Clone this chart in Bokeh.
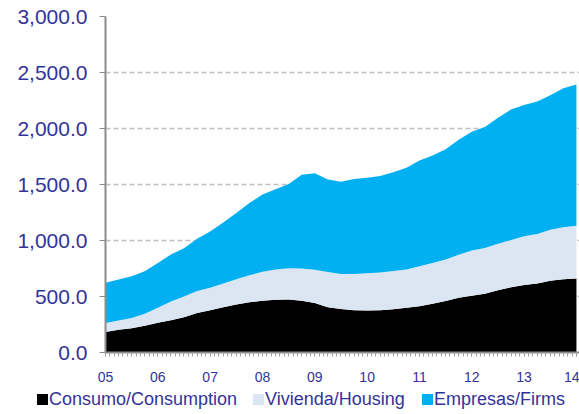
from bokeh.plotting import figure
from bokeh.layouts import column
from bokeh.models import ColumnDataSource, Range1d, FixedTicker, NumeralTickFormatter, Div
from bokeh.embed import file_html
from bokeh.resources import INLINE

# Quarterly readings, Jan 2005 .. Jan 2014 (stock of credit)
periods = ["2005-01", "2005-04", "2005-07", "2005-10", "2006-01", "2006-04", "2006-07", "2006-10",
           "2007-01", "2007-04", "2007-07", "2007-10", "2008-01", "2008-04", "2008-07", "2008-10",
           "2009-01", "2009-04", "2009-07", "2009-10", "2010-01", "2010-04", "2010-07", "2010-10",
           "2011-01", "2011-04", "2011-07", "2011-10", "2012-01", "2012-04", "2012-07", "2012-10",
           "2013-01", "2013-04", "2013-07", "2013-10", "2014-01"]
consumo = [184, 203, 217, 238, 265, 288, 315, 352, 378, 405, 428, 448, 462, 472, 474, 462,
           442, 405, 388, 378, 374, 378, 386, 400, 414, 436, 460, 488, 507, 525, 555, 583,
           603, 617, 641, 655, 660]
vivienda = [80, 82, 91, 107, 135, 167, 185, 196, 200, 210, 227, 242, 260, 268, 278, 288,
            297, 313, 312, 322, 333, 337, 341, 342, 356, 362, 370, 384, 403, 407, 415, 422,
            434, 441, 454, 463, 472]
empresas = [359, 367, 372, 380, 400, 420, 430, 467, 502, 545, 590, 645, 688, 717, 753, 838,
            861, 827, 825, 850, 853, 860, 883, 908, 945, 962, 985, 1028, 1062, 1082, 1125, 1165,
            1173, 1182, 1202, 1242, 1260]
series_names = ["Consumo/Consumption", "Vivienda/Housing", "Empresas/Firms"]
year_labels = ["05", "06", "07", "08", "09", "10", "11", "12", "13", "14"]
y_ticks = [0, 500, 1000, 1500, 2000, 2500, 3000]

# month index from Jan 2005
xs = [(int(s[:4]) - 2005) * 12 + int(s[5:]) - 1 for s in periods]
src = ColumnDataSource(dict(x=xs, c=consumo, v=vivienda, e=empresas))

colors = ["#000000", "#DCE6F2", "#00B0F0"]
label_color = "#333399"
FONT = "Liberation Sans"

p = figure(width=579, height=384, output_backend="svg", toolbar_location=None,
           x_range=Range1d(0, 108.7), y_range=Range1d(0, 3000),
           min_border_left=105, min_border_right=0, min_border_top=16, min_border_bottom=31)
p.outline_line_color = None
p.background_fill_color = "white"

rs = p.varea_stack(stackers=["c", "v", "e"], x="x", color=colors, source=src)

# grid
p.xgrid.visible = False
p.ygrid.grid_line_color = "#BFBFBF"
p.ygrid.grid_line_dash = "5 3"
p.ygrid.grid_line_width = 1.5
p.ygrid.ticker = FixedTicker(ticks=y_ticks)

# x axis
year_ticks = [12 * i for i in range(len(year_labels))]
p.xaxis.ticker = FixedTicker(ticks=year_ticks, minor_ticks=list(range(0, 110)))
p.xaxis.major_label_overrides = {t: l for t, l in zip(year_ticks, year_labels)}
p.xaxis.axis_line_color = "#8C8C8C"
p.xaxis.axis_line_width = 2
p.xaxis.major_tick_line_color = "#A0A0A0"
p.xaxis.minor_tick_line_color = "#A0A0A0"
p.xaxis.major_tick_out = 4
p.xaxis.major_tick_in = 0
p.xaxis.minor_tick_out = 4
p.xaxis.minor_tick_in = 0
p.xaxis.major_label_text_font = FONT
p.xaxis.major_label_text_font_size = "14px"
p.xaxis.major_label_text_color = label_color
p.xaxis.major_label_standoff = 15

# y axis
p.yaxis.ticker = FixedTicker(ticks=y_ticks)
p.yaxis.formatter = NumeralTickFormatter(format="0,0.0")
p.yaxis.axis_line_color = "#8C8C8C"
p.yaxis.axis_line_width = 2
p.yaxis.major_tick_line_color = "#8C8C8C"
p.yaxis.major_tick_out = 6
p.yaxis.major_tick_in = 0
p.yaxis.minor_tick_line_color = None
p.yaxis.major_label_text_font = FONT
p.yaxis.major_label_text_font_size = "21px"
p.yaxis.major_label_text_color = label_color
p.yaxis.major_label_standoff = 12

# legend strip below the chart (HTML)
item_left = [37, 253, 422]
parts = []
for name, col, left in zip(series_names, colors, item_left):
    parts.append(
        f'<span style="position:absolute;left:{left}px;top:10px;width:11px;height:11px;'
        f'background:{col};"></span>'
        f'<span style="position:absolute;left:{left + 12}px;top:5px;line-height:20px;'
        f'font-family:\'{FONT}\';font-size:18px;color:{label_color};white-space:nowrap;">{name}</span>'
    )
html = '<div style="position:relative;width:579px;height:30px;">' + "".join(parts) + "</div>"
lg = Div(text=html, width=579, height=30, margin=(0, 0, 0, 0))

layout = column(p, lg, spacing=0)
open("out.html", "w").write(file_html(layout, INLINE))
